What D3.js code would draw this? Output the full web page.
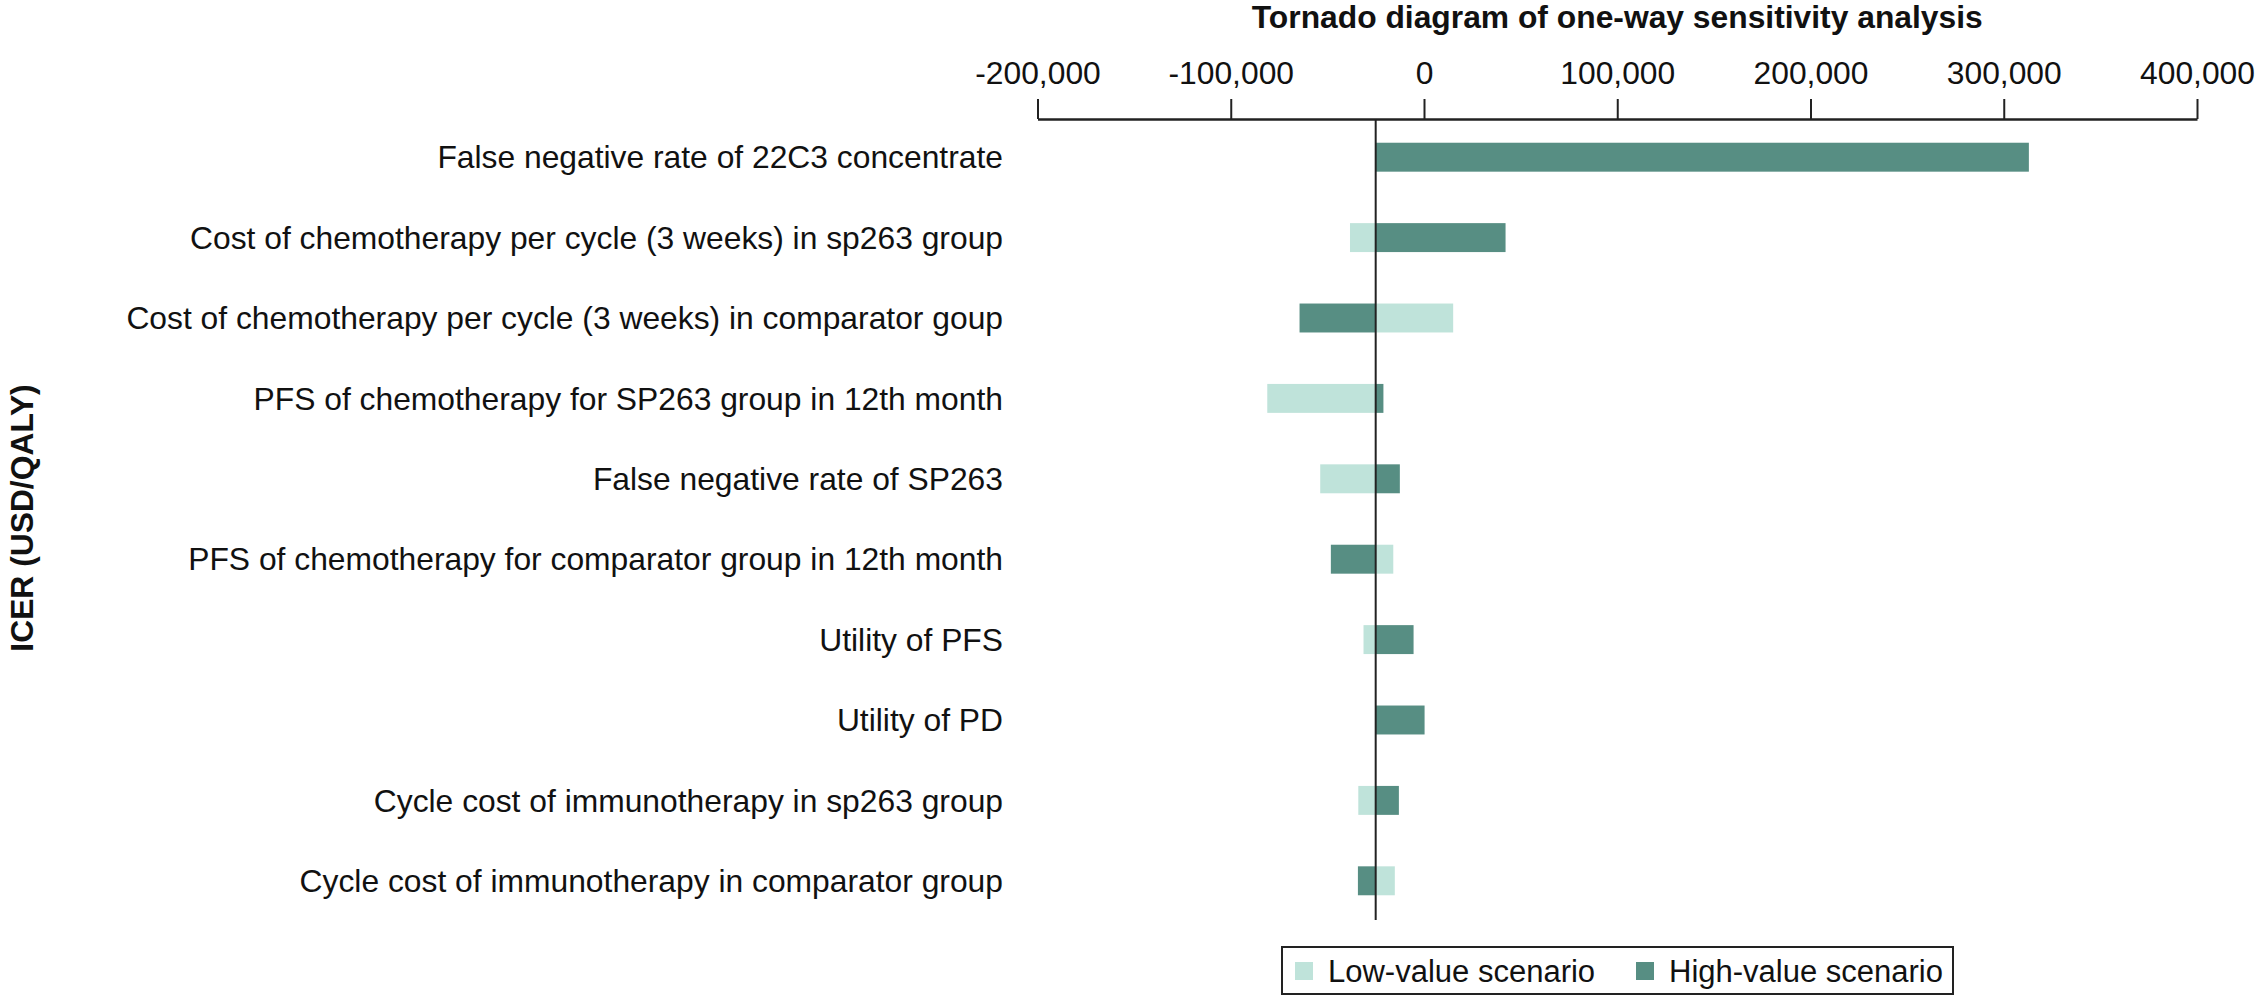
<!DOCTYPE html>
<html>
<head>
<meta charset="utf-8">
<script src="https://cdn.jsdelivr.net/npm/d3@7"></script>
<style>
  html, body { margin: 0; padding: 0; background: #fff; }
  svg { display: block; font-family: "Liberation Sans", Arial, Helvetica, sans-serif; }
</style>
</head>
<body>
<svg id="chart" width="2256" height="996"></svg>
<script>
// ---- Data ----
const categories = [
  "False negative rate of 22C3 concentrate",
  "Cost of chemotherapy per cycle (3 weeks) in sp263 group",
  "Cost of chemotherapy per cycle (3 weeks) in comparator goup",
  "PFS of chemotherapy for SP263 group in 12th month",
  "False negative rate of SP263",
  "PFS of chemotherapy for comparator group in 12th month",
  "Utility of PFS",
  "Utility of PD",
  "Cycle cost of immunotherapy in sp263 group",
  "Cycle cost of immunotherapy in comparator group"
];
const baseICER = -25000;
const lowValues  = [-25000, -38300,  15100, -81100, -53700, -15900, -31300, -25000, -34000, -15100];
const highValues = [313000,  42200, -64400, -21000, -12500, -48200,  -5400,    300, -13000, -34200];
const xTicks = [-200000, -100000, 0, 100000, 200000, 300000, 400000];
const xDomain = [-200000, 400000];
const seriesNames = ["Low-value scenario", "High-value scenario"];
const seriesColors = ["#bfe3da", "#578e83"];
const titleText = "Tornado diagram of one-way sensitivity analysis";
const yTitle = "ICER (USD/QALY)";

// ---- Layout ----
const svg = d3.select("#chart");
const FS = 31.8;
const x = d3.scaleLinear().domain(xDomain).range([1037.5, 2197]);
const y = d3.scaleBand().domain(categories).range([117, 921]).paddingInner(0.64).paddingOuter(0.32);
const axisY = 119;

// Title
svg.append("text")
  .attr("x", (x.range()[0] + x.range()[1]) / 2)
  .attr("y", 28)
  .attr("text-anchor", "middle")
  .attr("font-weight", "bold")
  .attr("font-size", FS)
  .attr("fill", "#111")
  .text(titleText);

// Top axis
const axis = d3.axisTop(x)
  .tickValues(xTicks)
  .tickSize(20)
  .tickSizeOuter(0)
  .tickPadding(15)
  .tickFormat(d3.format(","));
const gAxis = svg.append("g")
  .attr("transform", `translate(0,${axisY})`)
  .call(axis);
gAxis.select(".domain").attr("stroke", "#222").attr("stroke-width", 2.5);
gAxis.selectAll(".tick line").attr("stroke", "#222").attr("stroke-width", 2);
gAxis.selectAll(".tick text")
  .attr("font-size", FS)
  .attr("font-family", "'Liberation Sans', Arial, sans-serif")
  .attr("fill", "#111")
  .text(d => d3.format(",")(d).replace("−", "-"));

// Bars
const rows = categories.map((c, i) => ({ c, low: lowValues[i], high: highValues[i] }));
const bars = svg.append("g");
[["low", 0], ["high", 1]].forEach(([key, si]) => {
  bars.selectAll(null)
    .data(rows)
    .join("rect")
    .attr("x", d => Math.min(x(baseICER), x(d[key])))
    .attr("width", d => Math.abs(x(d[key]) - x(baseICER)))
    .attr("y", d => y(d.c))
    .attr("height", y.bandwidth())
    .attr("fill", seriesColors[si]);
});

// Baseline
svg.append("line")
  .attr("x1", x(baseICER)).attr("x2", x(baseICER))
  .attr("y1", axisY).attr("y2", 920)
  .attr("stroke", "#222").attr("stroke-width", 2);

// Category labels
svg.append("g").selectAll("text")
  .data(categories)
  .join("text")
  .attr("x", 1003)
  .attr("y", d => y(d) + y.bandwidth() / 2)
  .attr("dy", "0.35em")
  .attr("text-anchor", "end")
  .attr("font-size", FS)
  .attr("fill", "#111")
  .text(d => d);

// Y title
svg.append("text")
  .attr("transform", `translate(33,518) rotate(-90)`)
  .attr("text-anchor", "middle")
  .attr("font-weight", "bold")
  .attr("font-size", FS)
  .attr("fill", "#111")
  .text(yTitle);

// Legend
const lg = svg.append("g");
lg.append("rect")
  .attr("x", 1282).attr("y", 947)
  .attr("width", 671).attr("height", 47)
  .attr("fill", "#fff").attr("stroke", "#222").attr("stroke-width", 2);
const legendX = [1295, 1636];
seriesNames.forEach((name, i) => {
  lg.append("rect")
    .attr("x", legendX[i]).attr("y", 962)
    .attr("width", 18).attr("height", 18)
    .attr("fill", seriesColors[i]);
  lg.append("text")
    .attr("x", legendX[i] + 33).attr("y", 971)
    .attr("dy", "0.35em")
    .attr("font-size", 31)
    .attr("fill", "#111")
    .text(name);
});
</script>
</body>
</html>
